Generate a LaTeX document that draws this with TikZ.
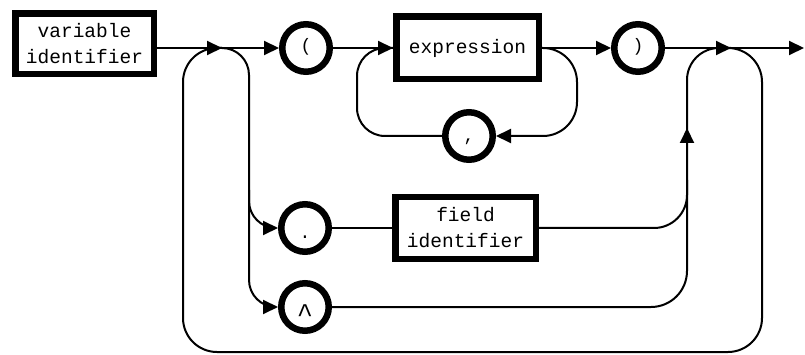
\documentclass[tikz,border=0pt]{standalone}
\usepackage{fontspec}
\setmonofont{Liberation Mono}
\usetikzlibrary{arrows.meta}
\begin{document}
\begin{tikzpicture}[x=1pt,y=-1pt,line width=2pt,
  arr/.style={-{Triangle[length=15pt,width=14pt]}},
  box/.style={draw,line width=6.5pt,fill=white,inner sep=0pt,align=center,
    font=\ttfamily\fontsize{19.5}{26}\selectfont},
  term/.style={draw,circle,line width=6.5pt,fill=white,inner sep=0pt,
    minimum size=47.5pt,text height=12pt,text depth=4pt,
    font=\ttfamily\fontsize{18}{26}\selectfont}]
\useasboundingbox (0,0) rectangle (805,355);
% nodes
\node[box,minimum width=138.5pt,minimum height=60.5pt] (vi) at (84.5,44) {variable\\identifier};
\node[term] (lp) at (306,48) {(};
\node[box,minimum width=142.5pt,minimum height=62.5pt] (expr) at (467.5,48) {expression};
\node[term,text height=14pt,text depth=2pt] (comma) at (469,136) {,};
\node[term] (rp) at (638,48) {)};
\node[term,text height=21pt,text depth=0pt] (dot) at (305,228) {.};
\node[box,minimum width=140.5pt,minimum height=61.5pt] (fi) at (465.5,228) {field\\identifier};
\node[term,text height=30pt,text depth=0pt,font=\ttfamily\fontsize{27}{30}\selectfont] (caret) at (305,307) {\^{}};
% junction coordinates
\coordinate (j1) at (222,48);
\coordinate (j2) at (731,48);
\coordinate (out) at (804,48);
% main line
\draw[arr] (vi.east |- j1) -- (j1);
\draw[arr] (j1) -- (lp.west);
\draw[arr] (lp.east) -- (expr.west);
\draw[arr] (expr.east) -- (rp.west);
\draw[arr] (rp.east) -- (j2);
\draw[arr] (j2) -- (out);
% list loop around expression
\draw[arr,rounded corners=34] (expr.east) -- (577,48) -- (577,136) -- (comma.east);
\draw[rounded corners=28] (comma.west) -- (357,136) -- (357,48) -- (expr.west);
% branch down to . and ^
\draw[arr,rounded corners=27] (219,48) -- (249,48) -- (249,307) -- (caret.west);
\draw[arr,rounded corners=27] (249,190) -- (249,228) -- (dot.west);
\draw (dot.east) -- (fi.west);
% merge back
\draw[arr,rounded corners=36] (caret.east) -- (687,307) -- (687,128);
\draw[rounded corners=32] (687,140) -- (687,48) -- (j2);
\draw[rounded corners=33] (fi.east) -- (687,228) -- (687,180);
% outer repetition loop
\draw[rounded corners=34] (726,48) -- (762,48) -- (762,352) -- (183,352) -- (183,48) -- (j1);
\end{tikzpicture}
\end{document}
